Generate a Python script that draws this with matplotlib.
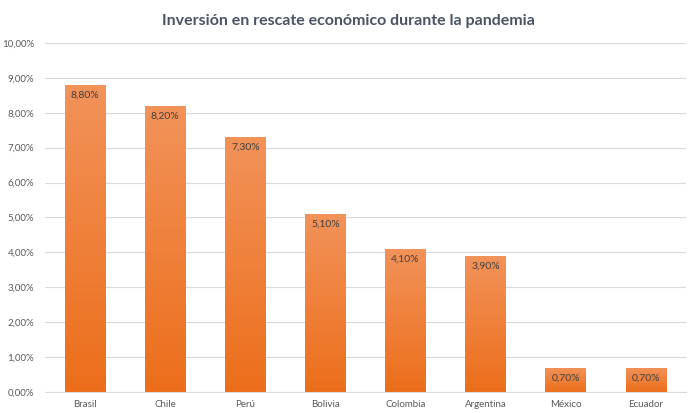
import numpy as np
import matplotlib
matplotlib.use("Agg")
import matplotlib.pyplot as plt
from matplotlib.colors import LinearSegmentedColormap

paises = ["Brasil", "Chile", "Perú", "Bolivia", "Colombia", "Argentina", "México", "Ecuador"]
inversion = [8.8, 8.2, 7.3, 5.1, 4.1, 3.9, 0.7, 0.7]
yticks = [0, 1, 2, 3, 4, 5, 6, 7, 8, 9, 10]

plt.rcParams['font.family'] = ['Lato', 'DejaVu Sans']

fig = plt.figure(figsize=(6.96, 4.13), dpi=100)
ax = fig.add_axes([0.065, 0.051, 0.92, 0.845])

grad = LinearSegmentedColormap.from_list("naranja", ["#EC6E1B", "#F2935A"])
gradient = np.linspace(0, 1, 256).reshape(-1, 1)

ancho = 0.5
x = np.arange(len(paises))
bars = ax.bar(x, inversion, width=ancho, color="none", edgecolor="none", zorder=2)
for b, v in zip(bars, inversion):
    x0 = b.get_x()
    im = ax.imshow(gradient, extent=[x0, x0 + ancho, 0, v], origin="lower",
                   cmap=grad, aspect="auto", zorder=2)
    im.set_clip_path(b)
    ax.text(b.get_x() + ancho / 2, v - 0.17, f"{v:.2f}%".replace(".", ","),
            ha="center", va="top", fontsize=7.5, color="#404040", zorder=3)

ax.set_xlim(-0.5, len(paises) - 0.5)
ax.set_ylim(0, 10)
ax.set_yticks(yticks)
ax.set_yticklabels([f"{t:.2f}%".replace(".", ",") for t in yticks])
ax.set_xticks(x)
ax.set_xticklabels(paises)
ax.tick_params(axis="both", length=0, labelsize=7, labelcolor="#595959")
ax.tick_params(axis="x", pad=6)
ax.tick_params(axis="y", pad=8)
ax.grid(axis="y", color="#D9D9D9", linewidth=0.8, zorder=0)
ax.set_axisbelow(True)
for s in ["top", "right", "left"]:
    ax.spines[s].set_visible(False)
ax.spines["bottom"].set_color("#D9D9D9")

fig.suptitle("Inversión en rescate económico durante la pandemia", y=0.965,
             fontsize=11.5, fontweight="bold", color="#4A5564")

fig.savefig("out.png", dpi=100)
